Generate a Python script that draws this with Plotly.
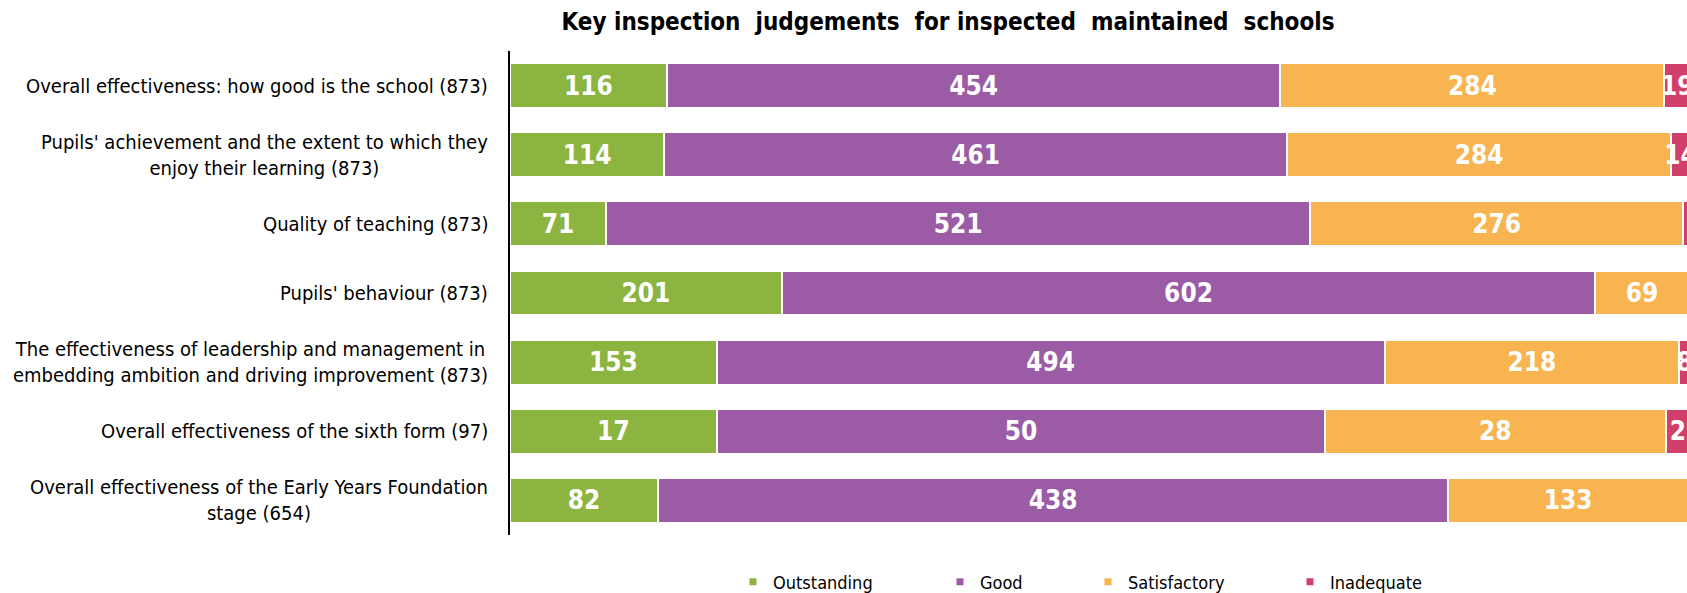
import plotly.graph_objects as go

categories = [
    "Overall effectiveness: how good is the school (873)",
    "Pupils' achievement and the extent to which they<br>enjoy their learning (873)",
    "Quality of teaching (873)",
    "Pupils' behaviour (873)",
    "The effectiveness of leadership and management in<br>embedding ambition and driving improvement (873)",
    "Overall effectiveness of the sixth form (97)",
    "Overall effectiveness of the Early Years Foundation<br>stage (654)",
]
outstanding = [116, 114, 71, 201, 153, 17, 82]
good = [454, 461, 521, 602, 494, 50, 438]
satisfactory = [284, 284, 276, 69, 218, 28, 133]
inadequate = [19, 14, 5, 1, 8, 2, 1]
# data labels shown in the reference (the smallest segments carry none)
inadequate_labels = ["19", "14", "", "", "8", "2", ""]

series_names = ["Outstanding", "Good", "Satisfactory", "Inadequate"]
series_values = [outstanding, good, satisfactory, inadequate]
series_labels = [[str(v) for v in outstanding], [str(v) for v in good],
                 [str(v) for v in satisfactory], inadequate_labels]
colors = ["#8BB440", "#9B5BA5", "#F8B450", "#D13F6B"]

FONT = "DejaVu Sans Condensed, DejaVu Sans, sans-serif"

W, H = 1687, 593
ML, MR, MT, MB = 510, 0, 51, 58
plot_w = W - ML - MR
plot_h = H - MT - MB

fig = go.Figure()
for name, vals, labels, col in zip(series_names, series_values, series_labels, colors):
    fig.add_trace(go.Bar(
        y=categories, x=vals, name=name, orientation="h",
        marker=dict(color=col, line=dict(color="white", width=2)),
        text=labels, textposition="inside",
        insidetextanchor="middle", textangle=0,
        textfont=dict(family=FONT, size=26, color="white", weight="bold"),
        showlegend=False, hoverinfo="x+y+name",
    ))

# legend proxies, one legend each for precise placement
legend_offsets_px = [223, 430, 578, 780]
for i, (name, col) in enumerate(zip(series_names, colors)):
    lg = "legend" if i == 0 else f"legend{i+1}"
    fig.add_trace(go.Scatter(
        x=[None], y=[None], mode="markers", name=name,
        marker=dict(symbol="square", size=7, color=col),
        showlegend=True, legend=lg,
    ))

legend_common = dict(orientation="h", yanchor="middle", xanchor="left",
                     font=dict(family=FONT, size=18, color="#000"),
                     bgcolor="rgba(0,0,0,0)")
layout_legends = {}
for i, off in enumerate(legend_offsets_px):
    key = "legend" if i == 0 else f"legend{i+1}"
    layout_legends[key] = dict(x=off / plot_w, y=-47 / plot_h, **legend_common)

annotations = []
for c in categories:
    annotations.append(dict(
        x=-20 / plot_w, xref="paper", y=c, yref="y",
        text=c, showarrow=False, xanchor="right", yanchor="middle",
        align="center", font=dict(family=FONT, size=20, color="#000"),
    ))

fig.update_layout(
    width=W, height=H,
    margin=dict(l=ML, r=MR, t=MT, b=MB, pad=0, autoexpand=False),
    barmode="stack", barnorm="fraction", bargap=0.35,
    plot_bgcolor="white", paper_bgcolor="white",
    title=dict(text="<b>Key inspection  judgements  for inspected  maintained  schools</b>",
               x=948 / W, xanchor="center", xref="container",
               y=1 - 21.5 / H, yanchor="middle", yref="container",
               font=dict(family=FONT, size=24, color="#000")),
    xaxis=dict(range=[0, 0.99746], showgrid=False, zeroline=False,
               showticklabels=False, showline=False, fixedrange=True),
    yaxis=dict(autorange="reversed", showgrid=False, zeroline=False,
               showticklabels=False, showline=True, linecolor="black",
               linewidth=2, ticks=""),
    uniformtext=dict(minsize=26, mode="show"),
    annotations=annotations,
    **layout_legends,
)

fig.write_html("out.html", config={"displayModeBar": False},
               post_script="document.body.style.margin='0';document.body.style.overflow='hidden';")
